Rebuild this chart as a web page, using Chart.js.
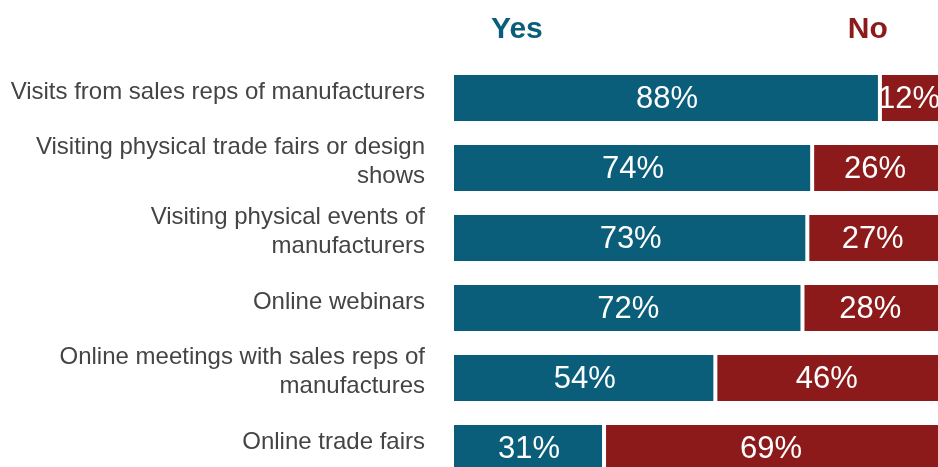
<!DOCTYPE html>
<html>
<head>
<meta charset="utf-8">
<script src="https://cdn.jsdelivr.net/npm/chart.js@4/dist/chart.umd.min.js"></script>
<style>
    html, body { margin: 0; padding: 0; overflow: hidden; background: #fff; }
    #wrap { width: 938px; height: 467px; overflow: hidden; }
</style>
</head>
<body>
<div id="wrap"><canvas id="chart" width="938" height="490"></canvas></div>
<script>
// categories (multi-line labels as arrays)
const categories = [
    ["Visits from sales reps of manufacturers"],
    ["Visiting physical trade fairs or design", "shows"],
    ["Visiting physical events of", "manufacturers"],
    ["Online webinars"],
    ["Online meetings with sales reps of", "manufactures"],
    ["Online trade fairs"]
];
const yesValues = [88, 74, 73, 72, 54, 31];
const noValues  = [12, 26, 27, 28, 46, 69];
const seriesNames = ["Yes", "No"];

const blue = '#0b5e7a';
const red = '#8c1a1b';
const font = "'Liberation Sans', Arial, sans-serif";

// draws the % inside each bar segment
const barLabels = {
    id: 'barLabels',
    afterDatasetsDraw(chart) {
        const ctx = chart.ctx;
        ctx.save();
        ctx.fillStyle = '#ffffff';
        ctx.font = '31px ' + font;
        ctx.textAlign = 'center';
        ctx.textBaseline = 'middle';
        chart.data.datasets.forEach((ds, i) => {
            chart.getDatasetMeta(i).data.forEach((bar, j) => {
                let cx = (bar.x + bar.base) / 2;
                ctx.fillText(ds.data[j] + '%', cx, bar.y + 1);
            });
        });
        ctx.restore();
    }
};

// "Yes" / "No" headers above the columns
const headers = {
    id: 'headers',
    afterDraw(chart) {
        const ctx = chart.ctx;
        const x = chart.scales.x;
        ctx.save();
        ctx.font = 'bold 30px ' + font;
        ctx.textAlign = 'center';
        ctx.textBaseline = 'alphabetic';
        ctx.fillStyle = blue;
        ctx.fillText(seriesNames[0], x.getPixelForValue(13), 38);
        ctx.fillStyle = red;
        ctx.fillText(seriesNames[1], x.getPixelForValue(85.5), 38);
        ctx.restore();
    }
};

new Chart(document.getElementById('chart').getContext('2d'), {
    type: 'bar',
    data: {
        labels: categories,
        datasets: [{
            label: seriesNames[0],
            data: yesValues,
            backgroundColor: blue,
            borderColor: '#ffffff',
            borderWidth: {left: 0, right: 2, top: 0, bottom: 0},
            borderSkipped: false,
            barPercentage: 1,
            categoryPercentage: 46 / 70
        }, {
            label: seriesNames[1],
            data: noValues,
            backgroundColor: red,
            borderColor: '#ffffff',
            borderWidth: {left: 2, right: 0, top: 0, bottom: 0},
            borderSkipped: false,
            barPercentage: 1,
            categoryPercentage: 46 / 70
        }]
    },
    options: {
        indexAxis: 'y',
        responsive: false,
        animation: false,
        layout: { padding: { top: 63, bottom: 7, left: 0, right: 0 } },
        plugins: {
            legend: { display: false },
            tooltip: { enabled: false }
        },
        scales: {
            x: {
                stacked: true,
                min: 0,
                max: 100,
                display: false
            },
            y: {
                stacked: true,
                grid: { display: false },
                border: { display: false },
                afterFit: (scale) => {
                    scale.width = 454;
                    // labels may hang outside, don't let them squeeze the bars
                    scale.paddingTop = 0;
                    scale.paddingBottom = 0;
                },
                ticks: {
                    color: '#444444',
                    font: { family: font, size: 24, lineHeight: 1.18 },
                    padding: 21,
                    labelOffset: -6
                }
            }
        }
    },
    plugins: [barLabels, headers]
});
</script>
</body>
</html>
